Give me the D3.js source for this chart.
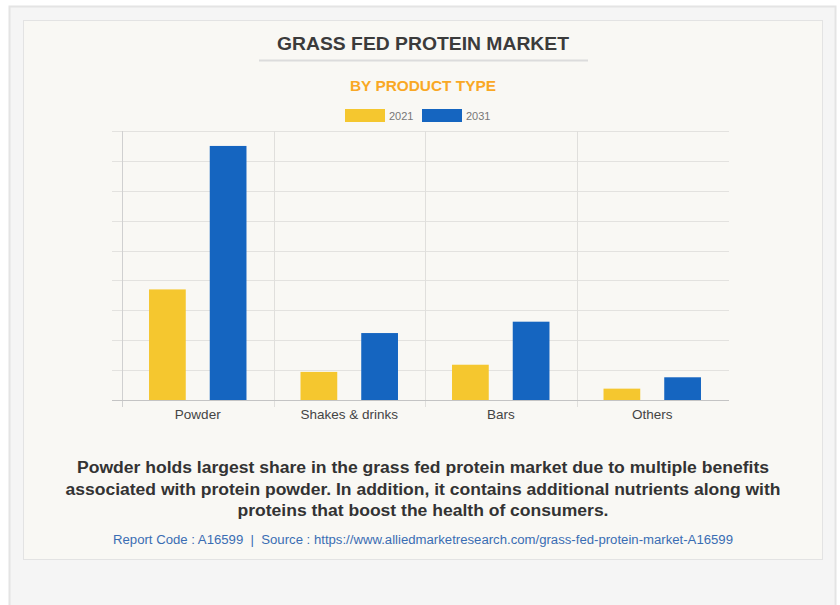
<!DOCTYPE html>
<html>
<head>
<meta charset="utf-8">
<script src="https://cdnjs.cloudflare.com/ajax/libs/d3/7.8.5/d3.min.js"></script>
<style>
  html, body { margin: 0; padding: 0; background: #ffffff; }
  svg { display: block; font-family: "Liberation Sans", Arial, sans-serif; }
</style>
</head>
<body>
<svg id="chart" width="840" height="605"></svg>
<script>
// chart data (values in relative units)
const categories = ['Powder', 'Shakes & drinks', 'Bars', 'Others'];
const years = ['2021', '2031'];
const values2021 = [370, 94, 118, 38];
const values2031 = [850, 224, 262, 76];
const yTicks = [0, 100, 200, 300, 400, 500, 600, 700, 800, 900];

const titleText = 'GRASS FED PROTEIN MARKET';
const subtitleText = 'BY PRODUCT TYPE';
const noteLines = [
  'Powder holds largest share in the grass fed protein market due to multiple benefits',
  'associated with protein powder. In addition, it contains additional nutrients along with',
  'proteins that boost the health of consumers.'
];
const sourceText = 'Report Code : A16599  |  Source : https://www.alliedmarketresearch.com/grass-fed-protein-market-A16599';

const colors = {'2021': '#f5c72f', '2031': '#1565c0'};
const series = {'2021': values2021, '2031': values2031};

const svg = d3.select('#chart');
const cx = 423;

// panels
svg.append('rect')
  .attr('x', 9.5).attr('y', 6.5)
  .attr('width', 826).attr('height', 610)
  .attr('fill', '#f5f5f5')
  .attr('stroke', '#e4e4e4')
  .attr('stroke-width', 2);
svg.append('rect')
  .attr('x', 23.5).attr('y', 20.5)
  .attr('width', 799).attr('height', 539)
  .attr('fill', '#f9f8f4')
  .attr('stroke', '#e3e3e3');

// titles
svg.append('text')
  .attr('x', cx).attr('y', 50)
  .attr('text-anchor', 'middle')
  .attr('font-size', 19).attr('font-weight', 'bold')
  .attr('fill', '#3b3b3b')
  .attr('textLength', 292).attr('lengthAdjust', 'spacingAndGlyphs')
  .text(titleText);
svg.append('line')
  .attr('x1', 259).attr('x2', 588)
  .attr('y1', 60.5).attr('y2', 60.5)
  .attr('stroke', '#dcdcdc').attr('stroke-width', 2);
svg.append('text')
  .attr('x', cx).attr('y', 90.5)
  .attr('text-anchor', 'middle')
  .attr('font-size', 15).attr('font-weight', 'bold')
  .attr('fill', '#f9a825')
  .attr('textLength', 146).attr('lengthAdjust', 'spacingAndGlyphs')
  .text(subtitleText);

// legend
const legend = svg.append('g').selectAll('g')
  .data(years)
  .join('g')
  .attr('transform', (d, i) => `translate(${345 + i * 77},109)`);
legend.append('rect')
  .attr('width', 40).attr('height', 13)
  .attr('fill', d => colors[d]);
legend.append('text')
  .attr('x', 44).attr('y', 10.5)
  .attr('font-size', 11)
  .attr('fill', '#777')
  .text(d => d);

// scales
const margin = {left: 122, right: 729, top: 131, bottom: 400};
const x = d3.scaleBand()
  .domain(categories)
  .range([margin.left, margin.right - 1]);
const xInner = d3.scaleBand()
  .domain(years)
  .range([0, x.bandwidth()])
  .paddingInner(0.395)
  .paddingOuter(0.445);
const y = d3.scaleLinear()
  .domain([0, 900])
  .range([margin.bottom, margin.top]);

// horizontal grid
const yAxis = d3.axisLeft(y)
  .tickValues(yTicks)
  .tickSize(-(margin.right - 112))
  .tickFormat('');
const gy = svg.append('g')
  .attr('class', 'y axis')
  .attr('transform', 'translate(112,0)')
  .call(yAxis);
gy.select('.domain').remove();
gy.selectAll('g.tick line')
  .attr('stroke', '#e3e2df')
  .attr('shape-rendering', 'crispEdges');

// vertical dividers
svg.append('g').selectAll('line')
  .data(categories)
  .join('line')
  .attr('x1', d => Math.round(x(d)) + 0.5)
  .attr('x2', d => Math.round(x(d)) + 0.5)
  .attr('y1', margin.top).attr('y2', 407)
  .attr('stroke', (d, i) => i === 0 ? '#d0d0d0' : '#e0dfdc');

// baseline
svg.append('line')
  .attr('x1', 112).attr('x2', margin.right)
  .attr('y1', margin.bottom + 0.5).attr('y2', margin.bottom + 0.5)
  .attr('stroke', '#c4c4c4');

// x labels
const xAxis = d3.axisBottom(x).tickSize(0).tickPadding(9);
const gx = svg.append('g')
  .attr('class', 'x axis')
  .attr('transform', `translate(0,${margin.bottom})`)
  .call(xAxis);
gx.select('.domain').remove();
gx.selectAll('text')
  .attr('font-size', 13.5)
  .attr('font-family', '"Liberation Sans", Arial, sans-serif')
  .attr('fill', '#444');

// bars
const groups = svg.append('g').selectAll('g')
  .data(categories)
  .join('g')
  .attr('transform', d => `translate(${x(d)},0)`);
groups.selectAll('rect')
  .data((d, i) => years.map(yr => ({year: yr, value: series[yr][i]})))
  .join('rect')
  .attr('x', d => xInner(d.year))
  .attr('y', d => y(d.value))
  .attr('width', xInner.bandwidth())
  .attr('height', d => y(0) - y(d.value))
  .attr('fill', d => colors[d.year]);

// note
const noteWidths = [692, 715, 371];
svg.append('g').selectAll('text')
  .data(noteLines)
  .join('text')
  .attr('x', cx)
  .attr('y', (d, i) => 473 + i * 21.5)
  .attr('text-anchor', 'middle')
  .attr('font-size', 16).attr('font-weight', 'bold')
  .attr('fill', '#333')
  .attr('textLength', (d, i) => noteWidths[i])
  .attr('lengthAdjust', 'spacingAndGlyphs')
  .text(d => d);

svg.append('text')
  .attr('x', cx).attr('y', 543.5)
  .attr('text-anchor', 'middle')
  .attr('font-size', 12)
  .attr('fill', '#3a6db3')
  .attr('textLength', 620).attr('lengthAdjust', 'spacingAndGlyphs')
  .attr('xml:space', 'preserve')
  .style('white-space', 'pre')
  .text(sourceText);
</script>
</body>
</html>
